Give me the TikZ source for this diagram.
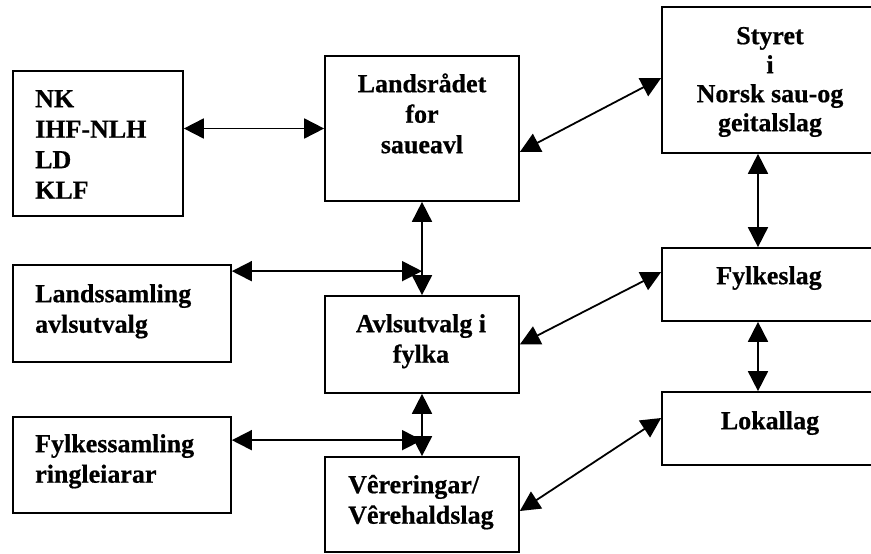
\documentclass[tikz,border=0pt]{standalone}
\usepackage{fontspec}
\setmainfont{Liberation Serif}[BoldFeatures={FakeBold=0.6}]
\usetikzlibrary{arrows.meta}
\begin{document}
\begin{tikzpicture}[x=1pt,y=-1pt,
  box/.style={draw=black,line width=1.7pt,inner sep=0pt,minimum width=#1},
  box/.default=194pt,
  txt/.style={inner sep=0pt,font=\fontsize{26}{30.5}\selectfont\bfseries},
  arr/.style={line width=1.8pt,{Triangle[length=20pt,width=20pt]}-{Triangle[length=20pt,width=20pt]}}]
\useasboundingbox (0,0) rectangle (871,554);
\clip (0,0) rectangle (871,554);
% boxes
\node[box=170pt,minimum height=145pt] (nk) at (98,143.5) {};
\node[box=194pt,minimum height=145pt] (lr) at (422,128.5) {};
\node[box=218pt,minimum height=146pt] (st) at (771,80) {};
\node[box=218pt,minimum height=97pt] (ls) at (122,313.5) {};
\node[box=194pt,minimum height=97pt] (av) at (422,344.5) {};
\node[box=218pt,minimum height=96pt] (fs) at (122,465) {};
\node[box=194pt,minimum height=95pt] (vr) at (422,504.5) {};
\node[box=218pt,minimum height=73pt] (fy) at (771,284.5) {};
\node[box=218pt,minimum height=73pt] (lo) at (771,428.5) {};
% texts
\node[txt,align=left,anchor=north west] (tnk) at (35,87) {\rule{0pt}{20pt}NK\\IHF-NLH\\LD\\KLF};
\node[txt,align=center,anchor=north] (tlr) at (422,72) {\rule{0pt}{20pt}Landsrådet\\for\\saueavl};
\node[txt,align=center,anchor=north,font=\fontsize{26}{29}\selectfont\bfseries] (tst) at (770,24) {\rule{0pt}{20pt}Styret\\i\\Norsk sau-og\\geitalslag};
\node[txt,align=left,anchor=north west] (tls) at (35,282) {\rule{0pt}{20pt}Landssamling\\avlsutvalg};
\node[txt,align=center,anchor=north] (tav) at (421,312) {\rule{0pt}{20pt}Avlsutvalg i\\fylka};
\node[txt,align=left,anchor=north west] (tfs) at (35,432) {\rule{0pt}{20pt}Fylkessamling\\ringleiarar};
\node[txt,align=left,anchor=north west] (tvr) at (348,473) {\rule{0pt}{20pt}Vêreringar/\\Vêrehaldslag};
\node[txt,align=center,anchor=north] (tfy) at (769,264) {\rule{0pt}{20pt}Fylkeslag};
\node[txt,align=center,anchor=north] (tlo) at (770,409) {\rule{0pt}{20pt}Lokallag};
% connectors
\draw[arr] (lr.west -| nk.east) -- (lr.west);
\draw[arr] ([yshift=-23.5pt]lr.east) -- ([yshift=2pt]st.west);
\draw[arr] (lr.south) -- (av.north);
\draw[arr] ([yshift=-7pt]ls.north east) -- ([yshift=-7pt]ls.north east -| lr.south);
\draw[arr] (av.south) -- (vr.north);
\draw[arr] ([yshift=-24pt]fs.north east) -- ([yshift=-24pt]fs.north east -| av.south);
\draw[arr] ([xshift=-13pt]st.south) -- ([xshift=-13pt]fy.north);
\draw[arr] ([xshift=-13pt]fy.south) -- ([xshift=-13pt]lo.north);
\draw[arr] (av.east) -- ([yshift=12.5pt]fy.west);
\draw[arr] ([yshift=-6.5pt]vr.east) -- ([yshift=10.5pt]lo.west);
\end{tikzpicture}
\end{document}
